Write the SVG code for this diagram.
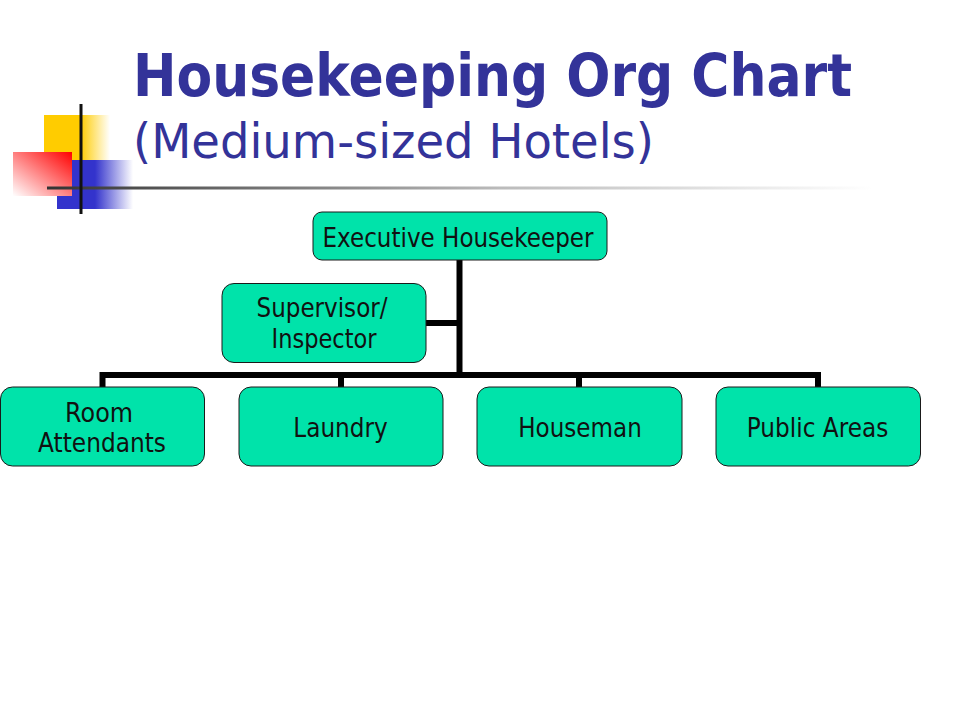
<svg xmlns="http://www.w3.org/2000/svg" width="960" height="720" viewBox="0 0 960 720">
<defs>
<style>
.node rect{fill:#00E3AA;stroke:#1a1a1a;stroke-width:1}
.node text{font-family:"DejaVu Sans","Liberation Sans",sans-serif;font-size:26.7px;fill:#111;text-anchor:middle}
.conn{fill:none;stroke:#000;stroke-width:6;stroke-linejoin:miter;stroke-linecap:butt}
.title{font-family:"DejaVu Sans","Liberation Sans",sans-serif;fill:#333399}
</style>
<linearGradient id="gYellow" x1="0" y1="0" x2="1" y2="0">
<stop offset="0" stop-color="#FFCC00"/>
<stop offset="0.55" stop-color="#FFCC00"/>
<stop offset="1" stop-color="#FFFFFF"/>
</linearGradient>
<linearGradient id="gBlue" x1="0" y1="0" x2="1" y2="0">
<stop offset="0" stop-color="#3333CC"/>
<stop offset="0.5" stop-color="#3333CC"/>
<stop offset="1" stop-color="#FFFFFF"/>
</linearGradient>
<linearGradient id="gRed" x1="1" y1="0" x2="0" y2="1">
<stop offset="0" stop-color="#FF0000"/>
<stop offset="1" stop-color="#FFFFFF"/>
</linearGradient>
<linearGradient id="gLine" x1="0" y1="0" x2="1" y2="0">
<stop offset="0" stop-color="#333333"/>
<stop offset="0.55" stop-color="#bbbbbb"/>
<stop offset="1" stop-color="#ffffff"/>
</linearGradient>
</defs>
<rect width="960" height="720" fill="#ffffff"/>

<g id="decoration">
<rect x="44" y="115" width="66" height="45" fill="url(#gYellow)"/>
<rect x="57" y="160" width="76" height="49" fill="url(#gBlue)"/>
<rect x="13" y="152" width="59" height="44" fill="url(#gRed)"/>
<rect x="47" y="186.5" width="825" height="3" fill="url(#gLine)"/>
<rect x="79.5" y="104" width="3" height="110" fill="#111111"/>
</g>

<g id="title">
<text class="title" x="133" y="95.5" font-size="58.7" font-weight="bold" textLength="719" lengthAdjust="spacingAndGlyphs">Housekeeping Org Chart</text>
<text class="title" x="133" y="158" font-size="48" textLength="521" lengthAdjust="spacingAndGlyphs">(Medium-sized Hotels)</text>
</g>

<g id="connectors">
<path class="conn" d="M459.5,260 V375"/>
<path class="conn" d="M426,323 H459.5"/>
<path class="conn" d="M102.5,387 V375 H818 V387"/>
<path class="conn" d="M341,375 V387"/>
<path class="conn" d="M579,375 V387"/>
</g>

<g id="executive-housekeeper" class="node">
<rect x="313" y="212" width="294" height="48" rx="9"/>
<text x="458" y="247" textLength="271" lengthAdjust="spacingAndGlyphs">Executive Housekeeper</text>
</g>

<g id="supervisor-inspector" class="node">
<rect x="222" y="283.5" width="204" height="79" rx="12"/>
<text x="322" y="317" textLength="131" lengthAdjust="spacingAndGlyphs">Supervisor/</text>
<text x="324" y="348" textLength="105" lengthAdjust="spacingAndGlyphs">Inspector</text>
</g>

<g id="room-attendants" class="node">
<rect x="0.5" y="387" width="204" height="79" rx="12"/>
<text x="99" y="421.5" textLength="68" lengthAdjust="spacingAndGlyphs">Room</text>
<text x="102" y="451.5" textLength="128" lengthAdjust="spacingAndGlyphs">Attendants</text>
</g>

<g id="laundry" class="node">
<rect x="239" y="387" width="204" height="79" rx="12"/>
<text x="340.5" y="437" textLength="94.5" lengthAdjust="spacingAndGlyphs">Laundry</text>
</g>

<g id="houseman" class="node">
<rect x="477" y="387" width="205" height="79" rx="12"/>
<text x="580" y="437" textLength="123.5" lengthAdjust="spacingAndGlyphs">Houseman</text>
</g>

<g id="public-areas" class="node">
<rect x="716" y="387" width="204.5" height="79" rx="12"/>
<text x="817.5" y="437" textLength="141.5" lengthAdjust="spacingAndGlyphs">Public Areas</text>
</g>
</svg>
